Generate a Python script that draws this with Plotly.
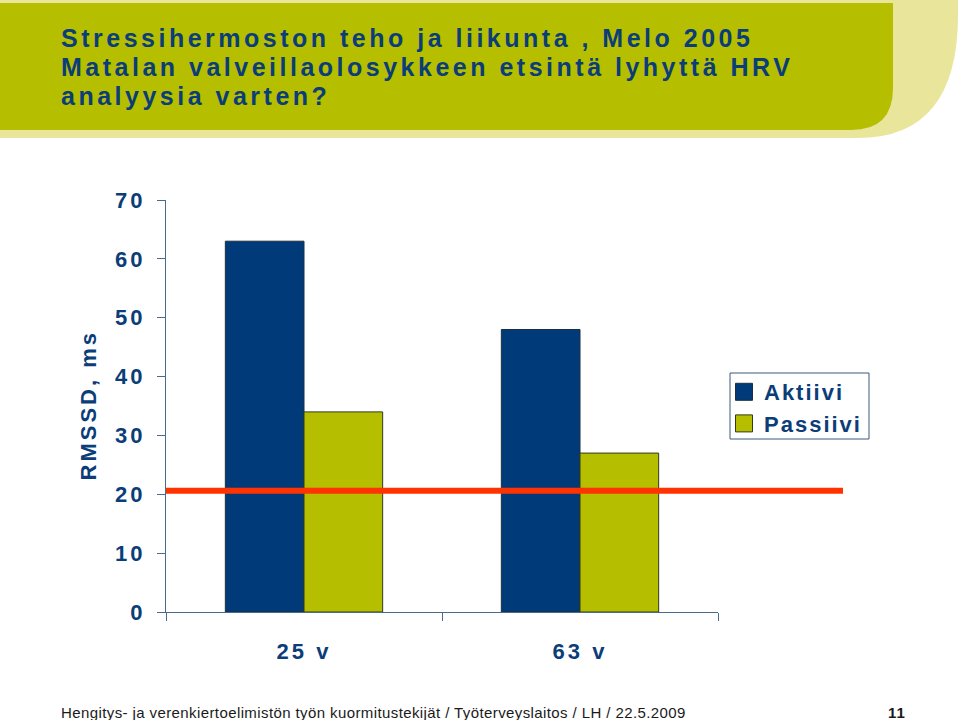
import plotly.graph_objects as go

categories = ["25 v", "63 v"]
aktiivi = [63, 48]
passiivi = [34, 27]
threshold = 20.6
y_ticks = [0, 10, 20, 30, 40, 50, 60, 70]

title_lines = [
    "Stressihermoston teho ja liikunta , Melo 2005",
    "Matalan valveillaolosykkeen etsintä lyhyttä HRV",
    "analyysia varten?",
]
y_title = "RMSSD, ms"
footer_text = "Hengitys- ja verenkiertoelimistön työn kuormitustekijät / Työterveyslaitos / LH / 22.5.2009"
page_no = "11"

BLUE = "#003A78"
OLIVE = "#B5BF00"
LIGHT = "#E9E69C"
TXT = "#0B3D78"
FONT = "Liberation Sans, Arial, sans-serif"

W, H = 960, 720
L, R, T, B = 166, 718, 200, 612  # plot area in pixels


def px(x):
    return (x - L) / (R - L)


def py(y):
    return (B - y) / (B - T)


fig = go.Figure()
fig.add_trace(go.Bar(x=categories, y=aktiivi, name="Aktiivi",
                     marker=dict(color=BLUE, line=dict(color="#1c2f3f", width=1))))
fig.add_trace(go.Bar(x=categories, y=passiivi, name="Passiivi",
                     marker=dict(color=OLIVE, line=dict(color="#2f3a1f", width=1))))

font_b = dict(family=FONT, weight="bold", color=TXT)

light_path = (f"M {px(0)},{py(0)} L {px(958)},{py(0)} L {px(958)},{py(15)} "
              f"Q {px(958)},{py(138)} {px(858)},{py(138)} L {px(0)},{py(138)} Z")
green_path = (f"M {px(0)},{py(3)} L {px(893)},{py(3)} L {px(893)},{py(88)} "
              f"Q {px(893)},{py(130)} {px(851)},{py(130)} L {px(0)},{py(130)} Z")

shapes = [
    dict(type="path", xref="paper", yref="paper", path=light_path,
         fillcolor=LIGHT, line=dict(width=0), layer="below"),
    dict(type="path", xref="paper", yref="paper", path=green_path,
         fillcolor=OLIVE, line=dict(width=0), layer="below"),
    dict(type="line", xref="paper", yref="y", x0=0, x1=px(843),
         y0=threshold, y1=threshold, line=dict(color="#FF3300", width=6)),
    # legend frame
    dict(type="rect", xref="paper", yref="paper", x0=px(730), x1=px(869),
         y0=py(373), y1=py(439), line=dict(color="#3a5a7a", width=1),
         fillcolor="rgba(0,0,0,0)"),
]

annotations = []
for i, line in enumerate(title_lines):
    annotations.append(dict(xref="paper", yref="paper", x=px(59), y=py(38 + 29 * i),
                            xanchor="left", yanchor="middle", align="left", showarrow=False,
                            text=line, font=dict(size=25, **font_b)))
annotations.append(dict(xref="paper", yref="paper", x=px(88), y=py(406),
                        xanchor="center", yanchor="middle", showarrow=False,
                        textangle=-90, text=y_title, font=dict(size=22, **font_b)))
annotations.append(dict(xref="paper", yref="paper", x=px(59), y=py(712),
                        xanchor="left", yanchor="middle", align="left", showarrow=False,
                        text=footer_text,
                        font=dict(size=15, family=FONT, color="#1a1a1a")))
annotations.append(dict(xref="paper", yref="paper", x=px(897), y=py(712),
                        xanchor="center", yanchor="middle", showarrow=False,
                        text=page_no,
                        font=dict(size=15, family=FONT, weight="bold", color="#1a1a1a")))

fig.update_layout(
    width=W, height=H,
    margin=dict(l=L, r=W - R, t=T, b=H - B),
    paper_bgcolor="white", plot_bgcolor="white",
    barmode="group", bargap=0.43, bargroupgap=0,
    shapes=shapes, annotations=annotations,
    showlegend=True,
    legend=dict(x=px(724), y=py(371), xanchor="left", yanchor="top",
                borderwidth=0, bgcolor="rgba(0,0,0,0)",
                font=dict(size=22, **font_b), itemwidth=30,
                tracegroupgap=0),
)
fig.update_xaxes(range=[-0.5, 1.5], showline=True, linecolor="#4a6a8a", linewidth=1,
                 ticks="outside", ticklen=8, tickcolor="#4a6a8a", tickson="boundaries",
                 showgrid=False, tickfont=dict(size=22, **font_b), zeroline=False,
                 ticklabelstandoff=20)
fig.update_yaxes(range=[0, 70], tickvals=y_ticks, showline=True, linecolor="#4a6a8a",
                 linewidth=1, ticks="outside", ticklen=8, tickcolor="#4a6a8a",
                 showgrid=False, zeroline=False, tickfont=dict(size=22, **font_b),
                 ticklabelstandoff=7)

# letter spacing and legend swatch size as in the original slide typography
post_js = """
var s = document.createElement('style');
s.textContent = `
.annotation[data-index="0"] text, .annotation[data-index="1"] text,
.annotation[data-index="2"] text { letter-spacing: 3.5px; }
.annotation[data-index="3"] text { letter-spacing: 3px; }
.annotation[data-index="4"] text { letter-spacing: 0.4px; }
.annotation[data-index="5"] text { letter-spacing: 1px; }
.xtick text, .ytick text { letter-spacing: 3px; }
.legendtext { letter-spacing: 2px; }
.legend .scrollbox, .legend g { clip-path: none !important; }
.legendpoints path { d: path("M8.5,8.5H-8.5V-8.5H8.5Z"); }
`;
document.head.appendChild(s);
"""

fig.write_html("out.html", post_script=post_js)
